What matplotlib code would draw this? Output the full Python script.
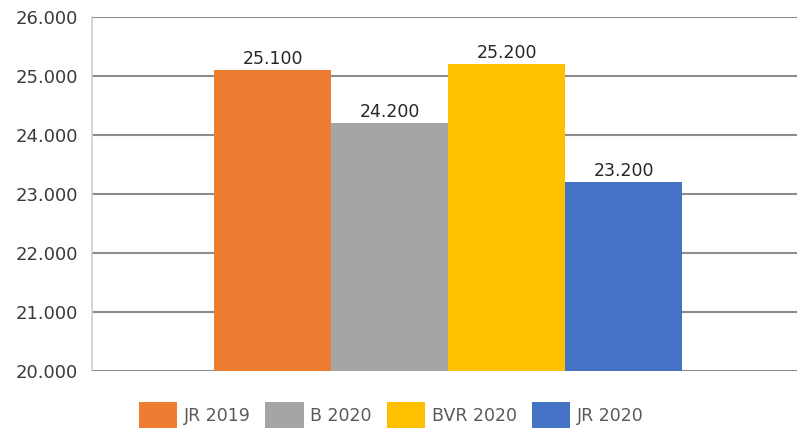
import matplotlib
matplotlib.use('Agg')
import matplotlib.pyplot as plt
import numpy as np

# data
series = ["JR 2019", "B 2020", "BVR 2020", "JR 2020"]
values = [25100, 24200, 25200, 23200]
labels = ["25.100", "24.200", "25.200", "23.200"]
colors = ["#ED7D31", "#A5A5A5", "#FFC000", "#4472C4"]
yticks = [20000, 21000, 22000, 23000, 24000, 25000, 26000]
ytick_labels = ["20.000", "21.000", "22.000", "23.000", "24.000", "25.000", "26.000"]

fig = plt.figure(figsize=(7.98, 4.30), dpi=100)
ax = fig.add_axes([0.1153, 0.137, 0.884, 0.8235])

width = 0.166
offsets = (np.arange(len(series)) - (len(series) - 1) / 2) * width
for i, name in enumerate(series):
    ax.bar(offsets[i], values[i] - 20000, width, bottom=20000,
           color=colors[i], label=name, zorder=3)
    ax.text(offsets[i], values[i] + 40, labels[i], ha='center', va='bottom',
            fontsize=12.5, color='#262626', zorder=4)

ax.set_xlim(-0.505, 0.495)
ax.set_ylim(20000, 26000)
ax.set_yticks(yticks)
ax.set_yticklabels(ytick_labels, fontsize=13, color='#3a3a3a')
ax.set_xticks([])
ax.grid(axis='y', color='#8c8c8c', linewidth=1.5, zorder=0)
ax.tick_params(axis='y', length=0, pad=10)

for s in ['top', 'right', 'bottom']:
    ax.spines[s].set_visible(False)
ax.spines['left'].set_color('#d0d0d0')
ax.spines['left'].set_linewidth(1.2)

leg = fig.legend(loc='lower center', bbox_to_anchor=(0.49, -0.032), ncol=4,
                 frameon=False, fontsize=12.5, handlelength=2.2, handleheight=1.9,
                 handletextpad=0.4, columnspacing=0.85)
for t in leg.get_texts():
    t.set_color('#595959')

fig.savefig('out.png', dpi=100)
